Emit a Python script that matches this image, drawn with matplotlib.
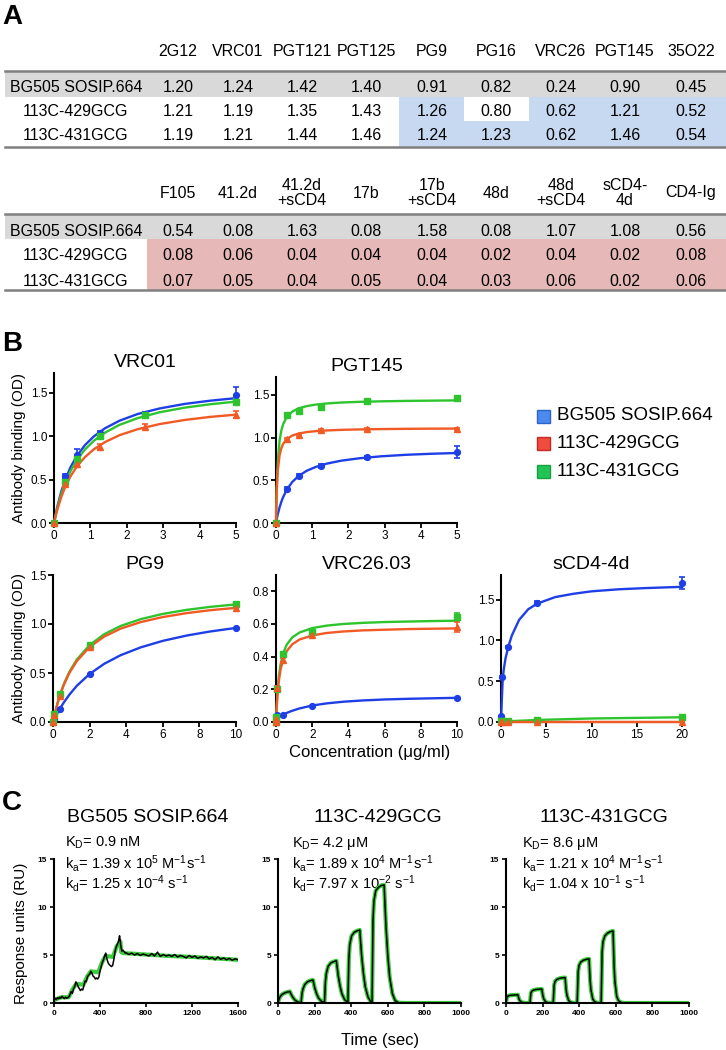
import matplotlib
matplotlib.use("Agg")
import matplotlib.pyplot as plt
from matplotlib.patches import Rectangle

plt.rcParams['font.family'] = ['Liberation Sans', 'DejaVu Sans']
plt.rcParams['mathtext.fontset'] = 'custom'
plt.rcParams['mathtext.rm'] = 'Liberation Sans'
plt.rcParams['mathtext.it'] = 'Liberation Sans:italic'
plt.rcParams['mathtext.bf'] = 'Liberation Sans:bold'

# ---------------- data: table A ----------------
row_names = ["BG505 SOSIP.664", "113C-429GCG", "113C-431GCG"]
top_cols = ["2G12", "VRC01", "PGT121", "PGT125", "PG9", "PG16", "VRC26", "PGT145", "35O22"]
top_vals = [[1.20, 1.24, 1.42, 1.40, 0.91, 0.82, 0.24, 0.90, 0.45],
            [1.21, 1.19, 1.35, 1.43, 1.26, 0.80, 0.62, 1.21, 0.52],
            [1.19, 1.21, 1.44, 1.46, 1.24, 1.23, 0.62, 1.46, 0.54]]
bot_cols = ["F105", "41.2d", "41.2d\n+sCD4", "17b", "17b\n+sCD4", "48d", "48d\n+sCD4", "sCD4-\n4d", "CD4-Ig"]
bot_vals = [[0.54, 0.08, 1.63, 0.08, 1.58, 0.08, 1.07, 1.08, 0.56],
            [0.08, 0.06, 0.04, 0.04, 0.04, 0.02, 0.04, 0.02, 0.08],
            [0.07, 0.05, 0.04, 0.05, 0.04, 0.03, 0.06, 0.02, 0.06]]

# ---------------- data: panel B ----------------
series = ["BG505 SOSIP.664", "113C-429GCG", "113C-431GCG"]

vrc01_conc = [0, 0.3125, 0.625, 1.25, 2.5, 5]
vrc01_blue = [0, 0.54, 0.79, 1.04, 1.26, 1.48]
vrc01_blue_err = [0, 0.02, 0.06, 0.02, 0.02, 0.09]
vrc01_red = [0, 0.45, 0.68, 0.88, 1.11, 1.25]
vrc01_red_err = [0, 0.02, 0.02, 0.03, 0.03, 0.04]
vrc01_green = [0, 0.47, 0.74, 1.00, 1.24, 1.40]
vrc01_green_err = [0, 0.01, 0.03, 0.03, 0.02, 0.03]
vrc01_fit_x = [0, 0.05, 0.1, 0.2, 0.3, 0.45, 0.625, 0.85, 1.1, 1.4, 1.8, 2.3, 2.9, 3.6, 4.3, 5.0]
vrc01_fit_blue = [0, 0.109, 0.204, 0.363, 0.490, 0.640, 0.772, 0.898, 1.001, 1.092, 1.180, 1.257, 1.321, 1.374, 1.411, 1.440]
vrc01_fit_green = [0, 0.099, 0.186, 0.333, 0.453, 0.596, 0.724, 0.848, 0.950, 1.042, 1.132, 1.210, 1.277, 1.331, 1.370, 1.400]
vrc01_fit_red = [0, 0.089, 0.167, 0.300, 0.408, 0.536, 0.650, 0.760, 0.852, 0.933, 1.013, 1.082, 1.141, 1.189, 1.224, 1.250]

pgt145_conc = [0, 0.3125, 0.625, 1.25, 2.5, 5]
pgt145_blue = [0, 0.40, 0.55, 0.67, 0.77, 0.83]
pgt145_blue_err = [0, 0.02, 0.02, 0.02, 0.02, 0.07]
pgt145_red = [0, 0.985, 1.03, 1.09, 1.105, 1.10]
pgt145_red_err = [0, 0.01, 0.01, 0.01, 0.01, 0.01]
pgt145_green = [0, 1.265, 1.316, 1.354, 1.43, 1.46]
pgt145_green_err = [0, 0.02, 0.02, 0.03, 0.02, 0.02]
pgt145_fit_x = [0, 0.02, 0.05, 0.1, 0.15, 0.2, 0.3, 0.45, 0.625, 0.85, 1.1, 1.4, 1.8, 2.3, 2.9, 3.6, 4.3, 5.0]
pgt145_fit_blue = [0, 0.045, 0.104, 0.185, 0.252, 0.306, 0.391, 0.481, 0.551, 0.612, 0.657, 0.695, 0.730, 0.758, 0.781, 0.799, 0.811, 0.820]
pgt145_fit_red = [0, 0.372, 0.619, 0.796, 0.880, 0.929, 0.984, 1.024, 1.048, 1.065, 1.076, 1.084, 1.091, 1.096, 1.100, 1.103, 1.105, 1.106]
pgt145_fit_green = [0, 0.414, 0.725, 0.967, 1.088, 1.160, 1.243, 1.305, 1.343, 1.369, 1.387, 1.400, 1.411, 1.419, 1.425, 1.430, 1.433, 1.436]

pg9_conc = [0, 0.08, 0.4, 2, 10]
pg9_blue = [0, 0.03, 0.136, 0.49, 0.955]
pg9_red = [0, 0.07, 0.266, 0.767, 1.165]
pg9_green = [0, 0.085, 0.29, 0.79, 1.20]
pg9_fit_x = [0, 0.1, 0.25, 0.4, 0.6, 0.9, 1.3, 2.0, 2.8, 3.7, 4.8, 6.0, 7.3, 8.6, 10]
pg9_fit_blue = [0, 0.039, 0.093, 0.142, 0.202, 0.280, 0.369, 0.490, 0.594, 0.682, 0.762, 0.828, 0.882, 0.924, 0.960]
pg9_fit_red = [0, 0.084, 0.191, 0.282, 0.382, 0.502, 0.621, 0.765, 0.872, 0.953, 1.020, 1.071, 1.111, 1.141, 1.165]
pg9_fit_green = [0, 0.085, 0.195, 0.288, 0.391, 0.514, 0.637, 0.785, 0.896, 0.980, 1.050, 1.103, 1.144, 1.175, 1.200]

vrc26_conc = [0, 0.016, 0.08, 0.4, 2, 10]
vrc26_blue = [0.0, 0.03, 0.04, 0.045, 0.095, 0.148]
vrc26_red = [0, 0.02, 0.21, 0.38, 0.534, 0.583]
vrc26_red_err = [0, 0, 0.01, 0.01, 0.01, 0.03]
vrc26_green = [0, 0.03, 0.20, 0.417, 0.55, 0.645]
vrc26_green_err = [0, 0, 0.01, 0.01, 0.01, 0.02]
vrc26_fit_x = [0, 0.03, 0.08, 0.15, 0.25, 0.4, 0.6, 0.9, 1.3, 2.0, 2.8, 3.7, 4.8, 6.0, 7.3, 8.6, 10]
vrc26_fit_blue = [0.02, 0.024, 0.028, 0.033, 0.038, 0.046, 0.056, 0.069, 0.083, 0.101, 0.114, 0.124, 0.132, 0.138, 0.142, 0.145, 0.148]
vrc26_fit_red = [0, 0.074, 0.163, 0.246, 0.320, 0.385, 0.435, 0.476, 0.505, 0.530, 0.545, 0.554, 0.561, 0.565, 0.569, 0.571, 0.573]
vrc26_fit_green = [0, 0.083, 0.181, 0.272, 0.352, 0.422, 0.475, 0.518, 0.548, 0.575, 0.590, 0.600, 0.607, 0.612, 0.615, 0.618, 0.620]

scd4_conc = [0.032, 0.16, 0.8, 4, 20]
scd4_blue = [0.07, 0.55, 0.92, 1.46, 1.70]
scd4_blue_err = [0, 0.01, 0.01, 0.02, 0.07]
scd4_red = [0.005, 0.005, 0.005, 0.005, 0.005]
scd4_green = [0.01, 0.01, 0.012, 0.03, 0.06]
scd4_fit_x = [0, 0.05, 0.1, 0.18, 0.3, 0.5, 0.8, 1.2, 2, 3, 4, 6, 8, 10, 13, 16, 20]
scd4_fit_blue = [0, 0.15, 0.30, 0.50, 0.64, 0.78, 0.92, 1.06, 1.25, 1.38, 1.45, 1.53, 1.57, 1.60, 1.625, 1.64, 1.655]
scd4_fit_green_x = [0, 1, 4, 10, 20]
scd4_fit_green = [0, 0.01, 0.025, 0.043, 0.058]
scd4_fit_red_x = [0, 20]
scd4_fit_red = [0.005, 0.005]

# ---------------- data: panel C ----------------
bg505_t = [0, 10, 20, 30, 40, 50, 60, 70, 80, 90, 100, 110, 120, 130,
           140, 150, 160, 170, 180, 190, 200, 210, 220, 230, 240, 250,
           260, 270, 280, 290, 300, 310, 320, 330, 340, 350, 360, 370, 380, 390,
           400, 410, 420, 430, 440, 450, 460, 470, 480, 490, 500, 510,
           520, 530, 540, 550, 560, 570, 575, 580, 590, 600, 620,
           625, 650, 675, 700, 725, 750, 775, 800, 825, 850, 875, 900, 925, 950, 975,
           1000, 1025, 1050, 1075, 1100, 1125, 1150, 1175, 1200, 1225, 1250, 1275,
           1300, 1325, 1350, 1375, 1400, 1425, 1450, 1475, 1500, 1525, 1550, 1575, 1600]
bg505_ru = [0.3, 0.5, 0.35, 0.55, 0.45, 0.6, 0.5, 0.7, 0.55, 0.45, 0.6, 0.5, 0.55, 0.65,
            0.9, 1.2, 1.0, 1.5, 1.7, 2.2, 2.0, 1.7, 1.5, 1.3, 1.45, 1.35,
            1.8, 2.3, 2.2, 2.7, 2.9, 3.0, 3.3, 3.1, 2.8, 2.7, 2.5, 2.6, 2.5, 2.7,
            3.3, 3.8, 4.2, 4.5, 4.9, 5.2, 4.6, 4.2, 4.0, 3.9, 3.8, 3.9,
            4.5, 5.3, 5.8, 6.1, 6.4, 7.0, 6.6, 6.0, 5.4, 5.5, 5.2,
            5.25, 5.05, 5.2, 5.0, 5.15, 4.95, 5.1, 5.0, 4.9, 5.15, 4.9, 5.3, 4.85, 5.05, 4.9,
            5.0, 4.85, 5.05, 4.8, 4.95, 4.85, 4.7, 4.95, 4.75, 4.9, 4.65, 4.8,
            4.7, 4.85, 4.6, 4.75, 4.5, 4.8, 4.55, 4.7, 4.5, 4.65, 4.45, 4.6, 4.5]
bg505_fit_t = [0, 30, 65, 128, 160, 193, 256, 290, 321, 384, 420, 449, 512, 545, 577, 585, 600, 800, 1000, 1200, 1400, 1600]
bg505_fit_ru = [0.3, 0.45, 0.6, 0.6, 1.4, 2.0, 1.9, 2.8, 3.3, 3.2, 4.3, 4.9, 4.8, 5.9, 6.4, 5.3, 5.2, 5.05, 4.9, 4.8, 4.65, 4.5]

g429_t = [0, 5, 10, 20, 35, 50, 65, 70, 75, 85, 95, 110, 125,
          126, 131, 136, 146, 161, 176, 191, 196, 201, 211, 221, 236, 251,
          254, 259, 264, 274, 289, 304, 319, 324, 329, 339, 349, 364, 379,
          382, 387, 392, 402, 417, 432, 447, 452, 457, 467, 477, 492, 507,
          514, 519, 524, 534, 549, 564, 580, 585, 590, 600, 610, 625, 640, 660, 700, 1000]
g429_ru = [0, 0.36, 0.60, 0.86, 1.04, 1.14, 1.20, 0.98, 0.78, 0.48, 0.26, 0.10, 0.02,
           0.0, 0.96, 1.44, 1.92, 2.21, 2.33, 2.40, 1.97, 1.56, 0.96, 0.53, 0.19, 0.05,
           0.0, 2.2, 3.08, 3.83, 4.18, 4.31, 4.40, 3.61, 2.86, 1.76, 0.97, 0.35, 0.09,
           0.0, 4.56, 6.08, 6.99, 7.37, 7.52, 7.60, 6.23, 4.94, 3.04, 1.67, 0.61, 0.15,
           0.0, 8.6, 10.6, 11.7, 12.05, 12.24, 12.30, 10.09, 8.0, 4.92, 2.71, 0.98, 0.25, 0.02, 0.0, 0.0]

g431_t = [0, 5, 10, 20, 35, 50, 65, 70, 75, 85, 95, 110,
          131, 136, 141, 151, 166, 181, 196, 201, 206, 216, 226, 241,
          258, 263, 268, 278, 293, 308, 323, 328, 333, 343, 353, 368,
          389, 394, 399, 409, 424, 439, 454, 459, 464, 474, 484, 499,
          520, 525, 530, 540, 555, 570, 585, 590, 595, 605, 615, 630, 650, 1000]
g431_ru = [0, 0.60, 0.72, 0.79, 0.82, 0.84, 0.85, 0.47, 0.26, 0.08, 0.03, 0.0,
           0.0, 1.02, 1.23, 1.35, 1.41, 1.44, 1.45, 0.80, 0.44, 0.13, 0.04, 0.01,
           0.0, 1.86, 2.25, 2.46, 2.57, 2.62, 2.65, 1.46, 0.80, 0.24, 0.08, 0.01,
           0.0, 3.22, 3.91, 4.28, 4.46, 4.55, 4.60, 2.53, 1.38, 0.41, 0.14, 0.02,
           0.0, 5.25, 6.38, 6.98, 7.28, 7.43, 7.50, 4.13, 2.25, 0.68, 0.23, 0.04, 0.0, 0.0]

spr_titles = ["BG505 SOSIP.664", "113C-429GCG", "113C-431GCG"]
spr_kd = ["0.9 nM", "4.2 μM", "8.6 μM"]
spr_ka = [("1.39", "5"), ("1.89", "4"), ("1.21", "4")]
spr_koff = [("1.25", "-4"), ("7.97", "-2"), ("1.04", "-1")]

# ---------------- figure ----------------
W, H = 726, 1050
fig = plt.figure(figsize=(W / 100, H / 100), dpi=100)
bg = fig.add_axes([0, 0, 1, 1])
bg.set_xlim(0, W)
bg.set_ylim(H, 0)
bg.axis('off')

BLUE = '#1f3fe6'
RED = '#f25a25'
GREEN = '#2ec42e'
FITG = '#3ccc3c'


def px_axes(l, t, r, b):
    return fig.add_axes([l / W, 1 - b / H, (r - l) / W, (b - t) / H])


# ---- Panel A table ----
col_x = [178, 238, 302, 366, 432, 496, 561, 625, 691]
label_x = 76
line_c = '#7f7f7f'
fs_tab = 11.5

bg.text(2, 17, "A", fontsize=20, fontweight='bold', va='center', ha='left')

# top table
bg.add_patch(Rectangle((5, 71), 721, 26, color='#d9d9d9', lw=0))
bg.add_patch(Rectangle((399, 97), 327, 50, color='#c6d9f1', lw=0))
bg.add_patch(Rectangle((464, 97), 64.5, 24, color='white', lw=0))
bg.plot([5, 726], [71, 71], color=line_c, lw=1.8)
bg.plot([5, 726], [147, 147], color=line_c, lw=1.8)
for cx, name in zip(col_x, top_cols):
    bg.text(cx, 52, name, fontsize=fs_tab, ha='center', va='center')
row_y_top = [88, 112, 136]
for ry, rn, vals in zip(row_y_top, row_names, top_vals):
    bg.text(label_x, ry, rn, fontsize=fs_tab, ha='center', va='center')
    for cx, v in zip(col_x, vals):
        bg.text(cx, ry, f"{v:.2f}", fontsize=fs_tab, ha='center', va='center')

# bottom table
bg.add_patch(Rectangle((5, 214), 721, 25, color='#d9d9d9', lw=0))
bg.add_patch(Rectangle((147, 239), 579, 51, color='#e6b8b7', lw=0))
bg.plot([5, 726], [214, 214], color=line_c, lw=1.8)
bg.plot([5, 726], [290, 290], color=line_c, lw=1.8)
for cx, name in zip(col_x, bot_cols):
    bg.text(cx, 193, name, fontsize=fs_tab, ha='center', va='center', linespacing=1.0)
row_y_bot = [231, 256, 281]
for ry, rn, vals in zip(row_y_bot, row_names, bot_vals):
    bg.text(label_x, ry, rn, fontsize=fs_tab, ha='center', va='center')
    for cx, v in zip(col_x, vals):
        bg.text(cx, ry, f"{v:.2f}", fontsize=fs_tab, ha='center', va='center')

# ---- Panel B ----
bg.text(2, 344, "B", fontsize=20, fontweight='bold', va='center', ha='left')


def style_b(ax, xlim, ylim, xticks, yticks, yfmt):
    ax.set_xlim(*xlim)
    ax.set_ylim(*ylim)
    ax.set_xticks(xticks)
    ax.set_yticks(yticks)
    ax.set_yticklabels([yfmt.format(v) for v in yticks])
    for s in ['top', 'right']:
        ax.spines[s].set_visible(False)
    for s in ['left', 'bottom']:
        ax.spines[s].set_linewidth(1.5)
    ax.tick_params(direction='out', length=3.5, width=1.3, labelsize=8.5, pad=1.5)
    ax.patch.set_alpha(0)


def draw_series(ax, conc, pts, err, fx, fy, color, marker, ms):
    ax.plot(fx, fy, color=color, lw=1.7, clip_on=False, zorder=3)
    ax.errorbar(conc, pts, yerr=err, fmt=marker, color=color, ms=ms, capsize=2.5,
                elinewidth=1.2, capthick=1.2, clip_on=False, zorder=4)


zero5 = [0] * 5
zero6 = [0] * 6

ax = px_axes(54, 373, 236, 523)
style_b(ax, (0, 5), (0, 1.73), [0, 1, 2, 3, 4, 5], [0, 0.5, 1.0, 1.5], "{:.1f}")
draw_series(ax, vrc01_conc, vrc01_blue, vrc01_blue_err, vrc01_fit_x, vrc01_fit_blue, BLUE, 'o', 4.2)
draw_series(ax, vrc01_conc, vrc01_green, vrc01_green_err, vrc01_fit_x, vrc01_fit_green, GREEN, 's', 4.0)
draw_series(ax, vrc01_conc, vrc01_red, vrc01_red_err, vrc01_fit_x, vrc01_fit_red, RED, '^', 4.2)
ax.set_title("VRC01", fontsize=14, pad=4)

ax = px_axes(276, 377, 457, 523)
style_b(ax, (0, 5), (0, 1.71), [0, 1, 2, 3, 4, 5], [0, 0.5, 1.0, 1.5], "{:.1f}")
draw_series(ax, pgt145_conc, pgt145_blue, pgt145_blue_err, pgt145_fit_x, pgt145_fit_blue, BLUE, 'o', 4.2)
draw_series(ax, pgt145_conc, pgt145_green, pgt145_green_err, pgt145_fit_x, pgt145_fit_green, GREEN, 's', 4.0)
draw_series(ax, pgt145_conc, pgt145_red, pgt145_red_err, pgt145_fit_x, pgt145_fit_red, RED, '^', 4.2)
ax.set_title("PGT145", fontsize=14, pad=4)

ax = px_axes(53, 575, 236, 722)
style_b(ax, (0, 10), (0, 1.5), [0, 2, 4, 6, 8, 10], [0, 0.5, 1.0, 1.5], "{:.1f}")
draw_series(ax, pg9_conc, pg9_blue, zero5, pg9_fit_x, pg9_fit_blue, BLUE, 'o', 4.2)
draw_series(ax, pg9_conc, pg9_green, zero5, pg9_fit_x, pg9_fit_green, GREEN, 's', 4.0)
draw_series(ax, pg9_conc, pg9_red, zero5, pg9_fit_x, pg9_fit_red, RED, '^', 4.2)
ax.set_title("PG9", fontsize=14, pad=4)

ax = px_axes(276, 575, 457, 722)
style_b(ax, (0, 10), (0, 0.9), [0, 2, 4, 6, 8, 10], [0, 0.2, 0.4, 0.6, 0.8], "{:.1f}")
draw_series(ax, vrc26_conc, vrc26_blue, zero6, vrc26_fit_x, vrc26_fit_blue, BLUE, 'o', 4.2)
draw_series(ax, vrc26_conc, vrc26_green, vrc26_green_err, vrc26_fit_x, vrc26_fit_green, GREEN, 's', 4.0)
draw_series(ax, vrc26_conc, vrc26_red, vrc26_red_err, vrc26_fit_x, vrc26_fit_red, RED, '^', 4.2)
ax.set_title("VRC26.03", fontsize=14, pad=4)

ax = px_axes(501, 575, 682, 722)
style_b(ax, (0, 20), (0, 1.8), [0, 5, 10, 15, 20], [0, 0.5, 1.0, 1.5], "{:.1f}")
draw_series(ax, scd4_conc, scd4_blue, scd4_blue_err, scd4_fit_x, scd4_fit_blue, BLUE, 'o', 4.2)
draw_series(ax, scd4_conc, scd4_green, zero5, scd4_fit_green_x, scd4_fit_green, GREEN, 's', 4.0)
draw_series(ax, scd4_conc, scd4_red, zero5, scd4_fit_red_x, scd4_fit_red, RED, '^', 4.2)
ax.set_title("sCD4-4d", fontsize=14, pad=4)

for yc in [448, 648]:
    bg.text(19, yc, "Antibody binding (OD)", fontsize=11, rotation=90, ha='center', va='center')
bg.text(370, 752, "Concentration (μg/ml)", fontsize=12, ha='center', va='center')

# legend
leg_face = ['#4a8af0', '#f24a3c', '#22c45a']
leg_edge = ['#2a64c8', '#c42a22', '#16a040']
for yc, name, fc, ec in zip([416, 443, 471], series, leg_face, leg_edge):
    bg.add_patch(Rectangle((537, yc - 6.5), 13, 13, facecolor=fc, edgecolor=ec, lw=1))
    bg.text(557, yc, name, fontsize=13.5, ha='left', va='center')

# ---- Panel C ----
bg.text(2, 803, "C", fontsize=20, fontweight='bold', va='center', ha='left')

spr_boxes = [(54, 238), (278, 461), (506, 689)]
spr_xmax = [1600, 1000, 1000]
spr_xticks = [[0, 400, 800, 1200, 1600], [0, 200, 400, 600, 800, 1000], [0, 200, 400, 600, 800, 1000]]
spr_data = [(bg505_t, bg505_ru, bg505_fit_t, bg505_fit_ru), (g429_t, g429_ru, g429_t, g429_ru),
            (g431_t, g431_ru, g431_t, g431_ru)]
title_x = [148, 378, 604]
ann_x = [65, 292, 522]

for i in range(3):
    l, r = spr_boxes[i]
    ax = px_axes(l, 859, r, 1003)
    t, ru, ft, fru = spr_data[i]
    ax.plot(ft, fru, color=FITG, lw=3.0, zorder=2)
    ax.plot(t, ru, color='black', lw=1.1, zorder=3)
    ax.set_xlim(0, spr_xmax[i])
    ax.set_ylim(0, 15)
    ax.set_xticks(spr_xticks[i])
    ax.set_yticks([0, 5, 10, 15])
    for s in ['top', 'right']:
        ax.spines[s].set_visible(False)
    for s in ['left', 'bottom']:
        ax.spines[s].set_linewidth(1.5)
    ax.tick_params(direction='out', length=3, width=1.2, labelsize=6, pad=2)
    for lab in ax.get_xticklabels() + ax.get_yticklabels():
        lab.set_fontweight('bold')
    ax.patch.set_alpha(0)
    bg.text(title_x[i], 817, spr_titles[i], fontsize=14, ha='center', va='center')
    bg.text(ann_x[i], 843, r"K$_\mathrm{D}$= " + spr_kd[i], fontsize=10.5, ha='left', va='center')
    m, e = spr_ka[i]
    bg.text(ann_x[i], 863, r"k$_\mathrm{a}$= " + m + r" x 10$^\mathrm{" + e + r"}$ M$^\mathrm{-1}$s$^\mathrm{-1}$",
            fontsize=10.5, ha='left', va='center')
    m, e = spr_koff[i]
    bg.text(ann_x[i], 883, r"k$_\mathrm{d}$= " + m + r" x 10$^\mathrm{" + e + r"}$ s$^\mathrm{-1}$",
            fontsize=10.5, ha='left', va='center')

bg.text(21, 933, "Response units (RU)", fontsize=11, rotation=90, ha='center', va='center')
bg.text(380, 1040, "Time (sec)", fontsize=12, ha='center', va='center')

fig.savefig("out.png", dpi=100)
